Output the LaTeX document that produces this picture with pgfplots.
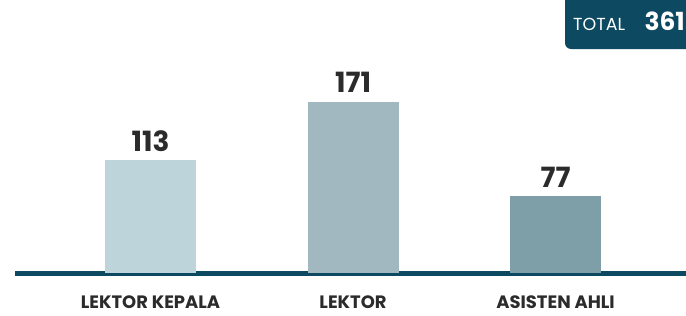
\documentclass[border=0pt]{standalone}
\usepackage{pgfplots}
\pgfplotsset{compat=1.18}
\usepackage{fontspec}
\setmainfont{Poppins}
\definecolor{navyteal}{HTML}{0D4A62}
\definecolor{barA}{HTML}{BDD4DA}
\definecolor{barB}{HTML}{A1B8C1}
\definecolor{barC}{HTML}{7F9FA8}
\definecolor{txtdark}{HTML}{2B2B2B}
\begin{document}
\begin{tikzpicture}[x=1bp,y=1bp]
\path[use as bounding box] (0,0) rectangle (686,315);
\begin{axis}[
  at={(15bp,42bp)}, anchor=south west,
  scale only axis, width=671bp, height=273bp,
  xmin=-0.669, xmax=2.644, ymin=0, ymax=273,
  axis x line=bottom, axis y line=none,
  axis line style={draw=navyteal, line width=5bp, -},
  xtick={0,1,2},
  xticklabels={LEKTOR KEPALA, LEKTOR, ASISTEN AHLI},
  major tick length=0pt,
  xticklabel style={anchor=base, yshift=-35bp, inner sep=0pt, text=txtdark,
    font=\bfseries\fontsize{18}{19}\selectfont},
  ytick=\empty,
  /pgf/number format/assume math mode=true,
  ybar, bar width=91bp,
  nodes near coords,
  every node near coord/.append style={anchor=base, yshift=9bp, inner sep=0pt,
    text=txtdark, font=\bfseries\fontsize{28}{28}\selectfont},
  clip=false,
]
\addplot[fill=barA, draw=none, bar shift=0pt] coordinates {(0,113)};
\addplot[fill=barB, draw=none, bar shift=0pt] coordinates {(1,171)};
\addplot[fill=barC, draw=none, bar shift=0pt] coordinates {(2,77)};
\end{axis}
\fill[navyteal, rounded corners=6bp] (565,266) rectangle (700,330);
\node[anchor=base west, inner sep=0pt, text=white, font=\fontsize{17.5}{18}\selectfont] at (573,285) {TOTAL};
\node[anchor=base east, inner sep=0pt, text=white, font=\bfseries\fontsize{25}{25}\selectfont] at (685,285) {361};
\end{tikzpicture}
\end{document}
